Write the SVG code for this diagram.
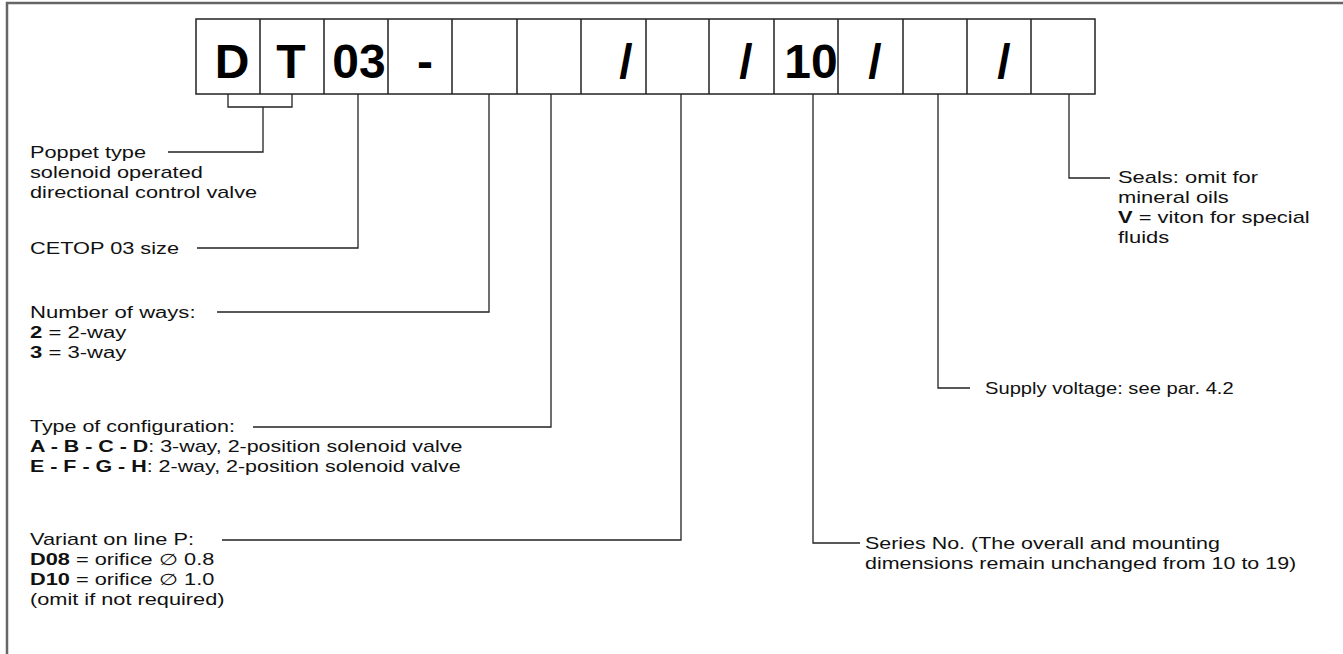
<svg xmlns="http://www.w3.org/2000/svg" width="1343" height="654" viewBox="0 0 1343 654">
<style>
.cell{fill:#fff;stroke:#222;stroke-width:1.5}
.big{font-family:"Liberation Sans",Arial,sans-serif;font-weight:bold;font-size:48px;fill:#000;text-anchor:middle}
.lbl{font-family:"Liberation Sans",Arial,sans-serif;font-size:16px;fill:#111}
.b{font-weight:bold}
.ln{fill:none;stroke:#222;stroke-width:1.3}
</style>
<rect width="1343" height="654" fill="#fff"/>
<path d="M7,654 V3 H1343" fill="none" stroke="#666" stroke-width="2.5"/>
<g id="code">
<rect class="cell" x="196" y="19" width="899" height="75"/>
<path class="ln" d="M260,19V94M324,19V94M388,19V94M452,19V94M517,19V94M581,19V94M646,19V94M709,19V94M774,19V94M838,19V94M903,19V94M967,19V94M1031,19V94" style="stroke-width:1.5"/>
<text class="big" x="232" y="78">D</text>
<text class="big" x="291" y="78">T</text>
<text class="big" x="359" y="78">03</text>
<text class="big" x="425" y="78">-</text>
<text class="big" x="626" y="78">/</text>
<text class="big" x="746" y="78">/</text>
<text class="big" x="811" y="78">10</text>
<text class="big" x="875" y="78">/</text>
<text class="big" x="1004" y="78">/</text>
</g>
<g id="connectors">
<path class="ln" d="M228,94V107H292V94M263,107V152H168"/>
<path class="ln" d="M358,94V248H197"/>
<path class="ln" d="M489,94V312H217"/>
<path class="ln" d="M551,94V427H253"/>
<path class="ln" d="M681,94V540H222"/>
<path class="ln" d="M813,94V543H860"/>
<path class="ln" d="M938,94V388H970"/>
<path class="ln" d="M1069,94V178H1110"/>
</g>
<g id="poppet" transform="translate(30,0) scale(1.36,1)">
<text class="lbl" x="0" y="158">Poppet type</text>
<text class="lbl" x="0" y="178">solenoid operated</text>
<text class="lbl" x="0" y="198">directional control valve</text>
</g>
<g id="cetop" transform="translate(30,0) scale(1.36,1)">
<text class="lbl" x="0" y="254">CETOP 03 size</text>
</g>
<g id="ways" transform="translate(30,0) scale(1.38,1)">
<text class="lbl" x="0" y="318">Number of ways:</text>
<text class="lbl" x="0" y="338"><tspan class="b">2</tspan> = 2-way</text>
<text class="lbl" x="0" y="358"><tspan class="b">3</tspan> = 3-way</text>
</g>
<g id="config" transform="translate(30,0) scale(1.34,1)">
<text class="lbl" x="0" y="432">Type of configuration:</text>
<text class="lbl" x="0" y="452"><tspan class="b">A - B - C - D</tspan>: 3-way, 2-position solenoid valve</text>
<text class="lbl" x="0" y="472"><tspan class="b">E - F - G - H</tspan>: 2-way, 2-position solenoid valve</text>
</g>
<g id="variant" transform="translate(30,0) scale(1.36,1)">
<text class="lbl" x="0" y="545">Variant on line P:</text>
<text class="lbl" x="0" y="565"><tspan class="b">D08</tspan> = orifice ∅ 0.8</text>
<text class="lbl" x="0" y="585"><tspan class="b">D10</tspan> = orifice ∅ 1.0</text>
<text class="lbl" x="0" y="605">(omit if not required)</text>
</g>
<g id="series" transform="translate(865,0) scale(1.34,1)">
<text class="lbl" x="0" y="549">Series No. (The overall and mounting</text>
<text class="lbl" x="0" y="569">dimensions remain unchanged from 10 to 19)</text>
</g>
<g id="voltage" transform="translate(985,0) scale(1.26,1)">
<text class="lbl" x="0" y="394">Supply voltage: see par. 4.2</text>
</g>
<g id="seals" transform="translate(1118,0) scale(1.37,1)">
<text class="lbl" x="0" y="183">Seals: omit for</text>
<text class="lbl" x="0" y="203">mineral oils</text>
<text class="lbl" x="0" y="223"><tspan class="b">V</tspan> = viton for special</text>
<text class="lbl" x="0" y="243">fluids</text>
</g>
</svg>
